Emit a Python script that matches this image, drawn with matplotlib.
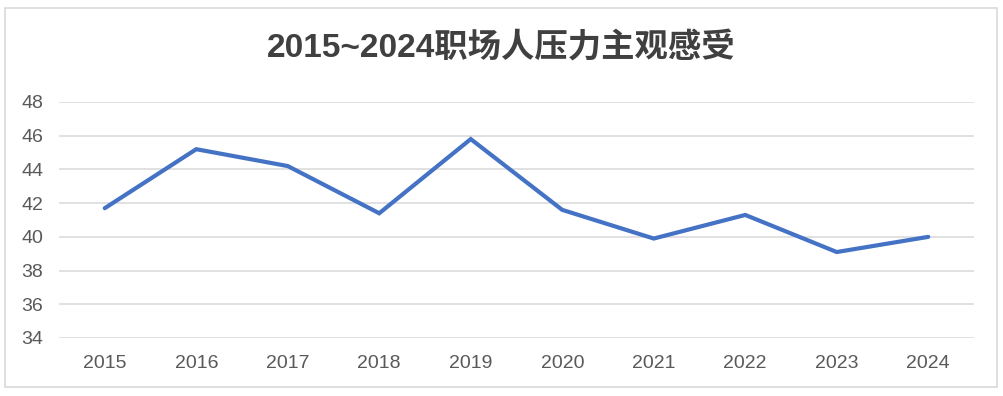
import matplotlib
matplotlib.use("Agg")
import matplotlib.pyplot as plt
from matplotlib.patches import Rectangle

years = ["2015", "2016", "2017", "2018", "2019", "2020", "2021", "2022", "2023", "2024"]
values = [41.7, 45.2, 44.2, 41.4, 45.8, 41.6, 39.9, 41.3, 39.1, 40.0]
y_ticks = [34, 36, 38, 40, 42, 44, 46, 48]
title = "2015~2024职场人压力主观感受"

plt.rcParams['font.family'] = ['Liberation Sans', 'Noto Sans CJK SC', 'DejaVu Sans']

fig = plt.figure(figsize=(10.04, 3.96), dpi=100)
fig.patch.set_facecolor("white")
fig.add_artist(Rectangle((5/1004, 1-387/396), 992/1004, 379/396, transform=fig.transFigure,
                         fill=False, edgecolor="#d9d9d9", linewidth=1.2))

ax = fig.add_axes([59/1004, 1-338/396, 915/1004, 236/396])
x = list(range(len(years)))
ax.plot(x, values, color="#4472c4", linewidth=3.0, solid_capstyle="round", solid_joinstyle="miter", zorder=3)
ax.set_xlim(-0.5, len(years) - 0.5)
ax.set_ylim(34, 48)
ax.set_yticks(y_ticks)
ax.set_xticks(x)
ax.set_xticklabels(years)
ax.grid(axis="y", color="#d9d9d9", linewidth=1.1)
ax.set_axisbelow(True)
for s in ax.spines.values():
    s.set_visible(False)
ax.tick_params(axis="both", length=0, labelsize=14, colors="#595959")
ax.tick_params(axis="y", pad=11.5)
ax.tick_params(axis="x", pad=12.5)

fig.text(501/1004, 1-48/396, title, ha="center", va="center", fontsize=24,
         fontweight="bold", color="#404040")

fig.savefig("out.png", dpi=100)
